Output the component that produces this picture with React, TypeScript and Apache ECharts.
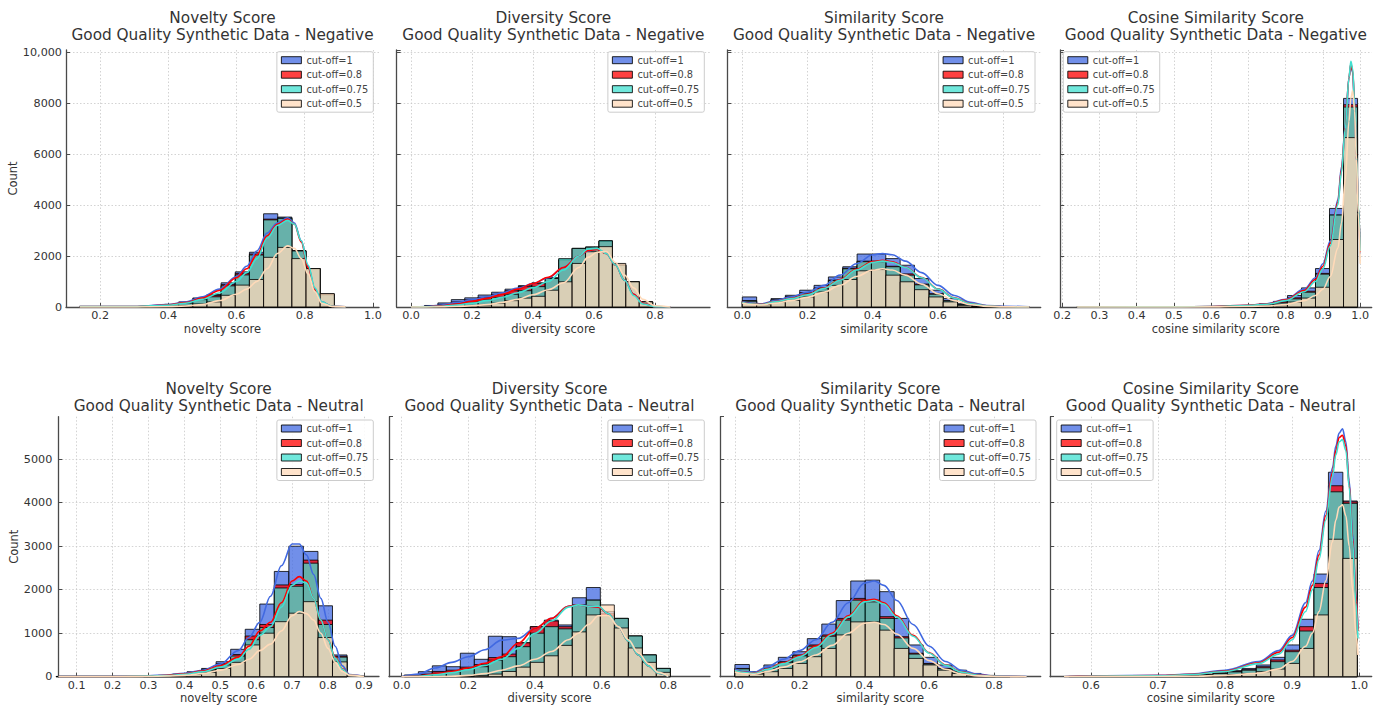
import React, { useEffect, useRef } from 'react';
import * as echarts from 'echarts';

// ---------- names / colours ----------
const cutoffNames = ['cut-off=1', 'cut-off=0.8', 'cut-off=0.75', 'cut-off=0.5'];
const barColors = ['rgba(65,105,225,0.75)', 'rgba(255,0,0,0.75)', 'rgba(64,224,208,0.75)', 'rgba(255,218,185,0.75)'];
const lineColors = ['#4169E1', '#FF0000', '#40E0D0', '#FFDAB9'];

const metrics = ['Novelty Score', 'Diversity Score', 'Similarity Score', 'Cosine Similarity Score'];
const sentiments = ['Negative', 'Neutral'];
const xNames = ['novelty score', 'diversity score', 'similarity score', 'cosine similarity score'];

// ---------- Row 1: Negative ----------
// Novelty
const negNoveltyBinStart = 0.14;
const negNoveltyBinWidth = 0.0415;
const negNoveltyC1 = [15, 5, 5, 5, 10, 25, 105, 200, 355, 490, 950, 1380, 2150, 3660, 3530, 2210, 1510, 500, 0, 0];
const negNoveltyC08 = [10, 5, 5, 5, 10, 20, 90, 170, 320, 450, 880, 1320, 2080, 3450, 3490, 2210, 1500, 490, 0, 0];
const negNoveltyC075 = [10, 5, 5, 5, 10, 20, 80, 150, 290, 400, 830, 1260, 2040, 3420, 3480, 2200, 1500, 480, 0, 0];
const negNoveltyC05 = [0, 0, 0, 0, 0, 5, 20, 50, 120, 200, 460, 860, 1080, 1950, 2340, 1900, 1510, 530, 0, 0];
const negNoveltyKdeX = [0.14, 0.3, 0.4, 0.45, 0.5, 0.55, 0.6, 0.63, 0.66, 0.69, 0.72, 0.75, 0.77, 0.79, 0.81, 0.83, 0.85, 0.88, 0.92];
const negNoveltyKdeC1 = [20, 20, 100, 200, 400, 700, 1200, 1600, 2200, 2900, 3300, 3500, 3300, 2600, 1600, 700, 200, 30, 5];
const negNoveltyKdeC08 = [15, 15, 80, 170, 350, 650, 1150, 1500, 2050, 2800, 3250, 3450, 3250, 2550, 1550, 680, 180, 25, 5];
const negNoveltyKdeC075 = [15, 15, 70, 150, 300, 550, 1000, 1350, 1900, 2700, 3200, 3400, 3250, 2600, 1650, 750, 200, 25, 5];
const negNoveltyKdeC05 = [0, 0, 10, 40, 100, 250, 500, 700, 1000, 1500, 2100, 2400, 2300, 1900, 1300, 600, 150, 20, 5];

// Diversity
const negDiversityBinStart = 0.0;
const negDiversityBinWidth = 0.044;
const negDiversityC1 = [0, 60, 160, 290, 360, 470, 580, 700, 840, 950, 1150, 1850, 2300, 2350, 2600, 1650, 1000, 200, 0, 0];
const negDiversityC08 = [0, 30, 100, 200, 280, 380, 500, 640, 800, 930, 1130, 1850, 2300, 2350, 2580, 1640, 990, 200, 0, 0];
const negDiversityC075 = [0, 20, 70, 140, 200, 280, 380, 500, 640, 800, 1120, 1900, 2300, 2350, 2600, 1640, 990, 200, 0, 0];
const negDiversityC05 = [0, 0, 10, 20, 40, 80, 150, 250, 350, 420, 660, 990, 1710, 2170, 2370, 1710, 990, 200, 0, 0];
const negDiversityKdeX = [0, 0.05, 0.1, 0.15, 0.2, 0.25, 0.3, 0.35, 0.4, 0.45, 0.5, 0.55, 0.58, 0.61, 0.64, 0.67, 0.7, 0.73, 0.76, 0.8, 0.85];
const negDiversityKdeC1 = [0, 20, 80, 170, 280, 400, 560, 740, 920, 1150, 1550, 2000, 2200, 2270, 2100, 1650, 1050, 500, 150, 20, 0];
const negDiversityKdeC08 = [0, 10, 50, 120, 220, 340, 500, 700, 920, 1170, 1550, 2000, 2220, 2260, 2100, 1650, 1050, 500, 150, 20, 0];
const negDiversityKdeC075 = [0, 5, 30, 80, 150, 250, 380, 560, 760, 1000, 1450, 2000, 2280, 2300, 2100, 1650, 1050, 450, 120, 15, 0];
const negDiversityKdeC05 = [0, 0, 5, 20, 50, 100, 180, 300, 480, 680, 950, 1550, 1950, 2150, 2180, 1750, 1250, 750, 300, 50, 0];

// Similarity
const negSimilarityBinStart = 0.0;
const negSimilarityBinWidth = 0.044;
const negSimilarityC1 = [395, 130, 330, 460, 660, 850, 1180, 1580, 2080, 2080, 1900, 1640, 1120, 660, 330, 130, 40, 20, 10, 5];
const negSimilarityC08 = [250, 100, 280, 400, 560, 750, 1060, 1520, 1800, 1800, 1600, 1300, 900, 520, 250, 90, 30, 10, 5, 0];
const negSimilarityC075 = [240, 100, 270, 390, 540, 720, 1040, 1500, 1780, 1780, 1580, 1250, 870, 500, 240, 90, 30, 10, 5, 0];
const negSimilarityC05 = [200, 90, 200, 260, 395, 590, 850, 1080, 1420, 1470, 1250, 990, 680, 395, 200, 65, 20, 5, 0, 0];
const negSimilarityKdeX = [0, 0.03, 0.06, 0.1, 0.15, 0.2, 0.25, 0.3, 0.35, 0.4, 0.43, 0.46, 0.5, 0.55, 0.6, 0.65, 0.7, 0.75, 0.8, 0.88];
const negSimilarityKdeC1 = [200, 150, 130, 250, 400, 580, 850, 1250, 1700, 2050, 2100, 2050, 1800, 1350, 850, 450, 180, 60, 30, 10];
const negSimilarityKdeC08 = [190, 125, 105, 210, 340, 500, 740, 1080, 1480, 1780, 1830, 1770, 1560, 1160, 710, 360, 135, 45, 12, 0];
const negSimilarityKdeC075 = [180, 120, 100, 200, 330, 480, 720, 1050, 1450, 1750, 1800, 1750, 1550, 1150, 700, 350, 130, 40, 10, 0];
const negSimilarityKdeC05 = [150, 100, 80, 150, 250, 380, 580, 850, 1200, 1450, 1500, 1450, 1250, 900, 520, 250, 90, 25, 5, 0];

// Cosine similarity
const negCosineBinStart = 0.24;
const negCosineBinWidth = 0.03765;
const negCosineC1 = [5, 5, 5, 5, 5, 5, 5, 5, 5, 10, 20, 30, 60, 130, 220, 450, 750, 1510, 3870, 8190];
const negCosineC08 = [5, 5, 5, 5, 5, 5, 5, 5, 5, 10, 15, 25, 50, 100, 195, 360, 620, 1320, 3610, 7940];
const negCosineC075 = [5, 5, 5, 5, 5, 5, 5, 5, 5, 5, 10, 20, 45, 90, 155, 320, 580, 1290, 3610, 7850];
const negCosineC05 = [0, 0, 0, 0, 0, 0, 0, 0, 0, 5, 5, 10, 20, 40, 90, 195, 350, 775, 2650, 6650];
const negCosineKdeX = [0.24, 0.5, 0.6, 0.7, 0.75, 0.8, 0.85, 0.88, 0.9, 0.92, 0.94, 0.95, 0.96, 0.97, 0.975, 0.98, 0.985, 0.99, 0.995, 1.0];
const negCosineKdeC1 = [0, 5, 20, 70, 130, 300, 700, 1150, 1700, 2600, 4200, 5500, 7100, 9000, 9500, 9200, 7900, 5900, 3900, 2100];
const negCosineKdeC08 = [0, 5, 20, 65, 120, 280, 650, 1080, 1600, 2500, 4100, 5400, 7050, 9000, 9550, 9250, 7950, 5950, 3950, 2150];
const negCosineKdeC075 = [0, 5, 20, 60, 110, 250, 600, 1000, 1500, 2400, 4000, 5300, 7000, 9000, 9650, 9350, 8000, 6000, 4000, 2200];
const negCosineKdeC05 = [0, 0, 5, 20, 40, 100, 250, 450, 700, 1200, 2300, 3300, 5000, 7300, 8200, 8500, 7700, 5800, 3700, 1700];

// ---------- Row 2: Neutral ----------
// Novelty
const neuNoveltyBinStart = 0.043;
const neuNoveltyBinWidth = 0.0405;
const neuNoveltyC1 = [5, 5, 5, 5, 5, 5, 15, 30, 60, 115, 190, 345, 630, 1090, 1670, 2420, 3000, 2880, 1630, 500];
const neuNoveltyC08 = [5, 5, 5, 5, 5, 5, 10, 25, 50, 95, 170, 300, 510, 935, 1200, 2110, 2120, 2680, 1300, 470];
const neuNoveltyC075 = [5, 5, 5, 5, 5, 5, 10, 20, 45, 85, 150, 270, 475, 850, 1130, 2040, 2080, 2610, 1200, 450];
const neuNoveltyC05 = [0, 0, 0, 0, 0, 0, 5, 10, 20, 50, 100, 190, 330, 730, 1000, 1265, 1460, 1725, 900, 340];
const neuNoveltyKdeX = [0.05, 0.2, 0.3, 0.35, 0.4, 0.45, 0.5, 0.55, 0.58, 0.61, 0.64, 0.67, 0.7, 0.72, 0.74, 0.76, 0.78, 0.8, 0.82, 0.84, 0.86, 0.9];
const neuNoveltyKdeC1 = [5, 5, 20, 40, 80, 150, 290, 600, 900, 1250, 1850, 2550, 3050, 3050, 2800, 2350, 1800, 1250, 700, 250, 50, 5];
const neuNoveltyKdeC08 = [5, 5, 15, 30, 65, 130, 250, 450, 700, 1050, 1250, 1700, 2200, 2300, 2200, 1800, 1300, 850, 450, 180, 40, 5];
const neuNoveltyKdeC075 = [5, 5, 15, 25, 55, 110, 220, 400, 630, 950, 1150, 1600, 2100, 2200, 2150, 1800, 1300, 850, 430, 170, 35, 5];
const neuNoveltyKdeC05 = [0, 0, 5, 15, 30, 70, 150, 280, 400, 600, 750, 1050, 1400, 1500, 1450, 1300, 1000, 650, 330, 120, 30, 0];

// Diversity
const neuDiversityBinStart = 0.008;
const neuDiversityBinWidth = 0.042;
const neuDiversityC1 = [40, 115, 250, 230, 540, 400, 930, 920, 780, 1150, 1300, 1190, 1815, 2050, 1500, 1340, 935, 500, 190, 0];
const neuDiversityC08 = [10, 60, 120, 150, 220, 280, 440, 520, 780, 1150, 1280, 1150, 1650, 1760, 1450, 1340, 935, 500, 190, 0];
const neuDiversityC075 = [5, 40, 80, 115, 190, 230, 380, 460, 690, 1000, 1150, 1100, 1650, 1760, 1400, 1340, 935, 500, 190, 0];
const neuDiversityC05 = [0, 0, 0, 0, 10, 30, 60, 120, 220, 330, 480, 720, 1030, 1420, 1650, 1120, 660, 330, 100, 0];
const neuDiversityKdeX = [0, 0.05, 0.1, 0.15, 0.2, 0.25, 0.3, 0.35, 0.4, 0.45, 0.5, 0.53, 0.56, 0.59, 0.62, 0.65, 0.68, 0.71, 0.74, 0.77, 0.8];
const neuDiversityKdeC1 = [0, 60, 200, 330, 460, 620, 840, 880, 1110, 1340, 1620, 1650, 1630, 1600, 1450, 1150, 820, 500, 250, 80, 10];
const neuDiversityKdeC08 = [0, 15, 60, 115, 200, 310, 460, 770, 1110, 1340, 1620, 1650, 1620, 1600, 1450, 1150, 820, 500, 250, 80, 10];
const neuDiversityKdeC075 = [0, 10, 45, 90, 160, 260, 400, 650, 1000, 1280, 1600, 1650, 1620, 1620, 1450, 1150, 820, 500, 250, 80, 10];
const neuDiversityKdeC05 = [0, 0, 0, 10, 30, 70, 150, 250, 400, 580, 850, 1000, 1200, 1400, 1400, 1150, 850, 550, 300, 100, 15];

// Similarity
const neuSimilarityBinStart = 0.0;
const neuSimilarityBinWidth = 0.0447;
const neuSimilarityC1 = [280, 115, 270, 445, 575, 875, 1210, 1750, 2200, 2220, 1955, 1340, 730, 445, 270, 150, 75, 30, 10, 5];
const neuSimilarityC08 = [190, 75, 200, 345, 500, 730, 960, 1340, 1800, 1760, 1380, 920, 540, 305, 190, 115, 50, 20, 5, 0];
const neuSimilarityC075 = [180, 70, 190, 330, 480, 700, 930, 1300, 1760, 1720, 1340, 890, 520, 290, 180, 110, 45, 20, 5, 0];
const neuSimilarityC05 = [115, 60, 115, 190, 305, 460, 650, 960, 1260, 1260, 1070, 650, 420, 270, 150, 75, 30, 10, 0, 0];
const neuSimilarityKdeX = [0, 0.03, 0.06, 0.1, 0.15, 0.2, 0.25, 0.3, 0.35, 0.4, 0.43, 0.46, 0.5, 0.55, 0.6, 0.65, 0.7, 0.75, 0.8, 0.9];
const neuSimilarityKdeC1 = [180, 120, 100, 230, 400, 600, 850, 1250, 1700, 2150, 2200, 2100, 1750, 1200, 700, 350, 150, 60, 20, 5];
const neuSimilarityKdeC08 = [150, 100, 80, 180, 320, 480, 700, 1000, 1400, 1750, 1780, 1700, 1400, 950, 550, 270, 110, 40, 10, 0];
const neuSimilarityKdeC075 = [140, 95, 75, 170, 300, 460, 670, 970, 1370, 1720, 1750, 1670, 1370, 930, 540, 260, 105, 35, 10, 0];
const neuSimilarityKdeC05 = [110, 70, 55, 120, 220, 340, 500, 720, 1000, 1230, 1250, 1200, 980, 650, 370, 170, 60, 20, 5, 0];

// Cosine similarity
const neuCosineBinStart = 0.567;
const neuCosineBinWidth = 0.0215;
const neuCosineC1 = [5, 5, 5, 5, 5, 10, 15, 25, 40, 60, 90, 140, 190, 270, 445, 730, 1320, 2360, 4700, 4040];
const neuCosineC08 = [5, 5, 5, 5, 5, 10, 15, 20, 35, 50, 80, 120, 160, 230, 385, 610, 1150, 2145, 4390, 4020];
const neuCosineC075 = [5, 5, 5, 5, 5, 5, 10, 20, 30, 45, 70, 110, 150, 205, 345, 575, 1050, 2050, 4250, 3985];
const neuCosineC05 = [0, 0, 0, 0, 0, 0, 5, 5, 10, 20, 30, 50, 75, 115, 175, 305, 650, 1420, 3160, 2720];
const neuCosineKdeX = [0.56, 0.7, 0.75, 0.8, 0.85, 0.88, 0.9, 0.92, 0.93, 0.94, 0.95, 0.96, 0.965, 0.97, 0.975, 0.98, 0.985, 0.99, 0.995, 0.998];
const neuCosineKdeC1 = [0, 30, 60, 150, 350, 600, 950, 1700, 2200, 2900, 3800, 4800, 5300, 5600, 5700, 5400, 4500, 3300, 1900, 1100];
const neuCosineKdeC08 = [0, 25, 55, 130, 320, 560, 900, 1600, 2100, 2800, 3700, 4700, 5200, 5500, 5550, 5300, 4400, 3200, 1850, 1050];
const neuCosineKdeC075 = [0, 20, 50, 120, 300, 520, 850, 1500, 2000, 2700, 3600, 4600, 5100, 5400, 5450, 5200, 4350, 3100, 1700, 880];
const neuCosineKdeC05 = [0, 5, 10, 30, 80, 180, 350, 700, 1000, 1500, 2200, 3100, 3600, 3900, 3950, 3700, 3000, 2000, 1000, 500];

// y-axis extents per row
const rowYMax = [10090, 5977];

const panelData = [
  { bs: negNoveltyBinStart, bw: negNoveltyBinWidth, h: [negNoveltyC1, negNoveltyC08, negNoveltyC075, negNoveltyC05], kx: negNoveltyKdeX, k: [negNoveltyKdeC1, negNoveltyKdeC08, negNoveltyKdeC075, negNoveltyKdeC05] },
  { bs: negDiversityBinStart, bw: negDiversityBinWidth, h: [negDiversityC1, negDiversityC08, negDiversityC075, negDiversityC05], kx: negDiversityKdeX, k: [negDiversityKdeC1, negDiversityKdeC08, negDiversityKdeC075, negDiversityKdeC05] },
  { bs: negSimilarityBinStart, bw: negSimilarityBinWidth, h: [negSimilarityC1, negSimilarityC08, negSimilarityC075, negSimilarityC05], kx: negSimilarityKdeX, k: [negSimilarityKdeC1, negSimilarityKdeC08, negSimilarityKdeC075, negSimilarityKdeC05] },
  { bs: negCosineBinStart, bw: negCosineBinWidth, h: [negCosineC1, negCosineC08, negCosineC075, negCosineC05], kx: negCosineKdeX, k: [negCosineKdeC1, negCosineKdeC08, negCosineKdeC075, negCosineKdeC05] },
  { bs: neuNoveltyBinStart, bw: neuNoveltyBinWidth, h: [neuNoveltyC1, neuNoveltyC08, neuNoveltyC075, neuNoveltyC05], kx: neuNoveltyKdeX, k: [neuNoveltyKdeC1, neuNoveltyKdeC08, neuNoveltyKdeC075, neuNoveltyKdeC05] },
  { bs: neuDiversityBinStart, bw: neuDiversityBinWidth, h: [neuDiversityC1, neuDiversityC08, neuDiversityC075, neuDiversityC05], kx: neuDiversityKdeX, k: [neuDiversityKdeC1, neuDiversityKdeC08, neuDiversityKdeC075, neuDiversityKdeC05] },
  { bs: neuSimilarityBinStart, bw: neuSimilarityBinWidth, h: [neuSimilarityC1, neuSimilarityC08, neuSimilarityC075, neuSimilarityC05], kx: neuSimilarityKdeX, k: [neuSimilarityKdeC1, neuSimilarityKdeC08, neuSimilarityKdeC075, neuSimilarityKdeC05] },
  { bs: neuCosineBinStart, bw: neuCosineBinWidth, h: [neuCosineC1, neuCosineC08, neuCosineC075, neuCosineC05], kx: neuCosineKdeX, k: [neuCosineKdeC1, neuCosineKdeC08, neuCosineKdeC075, neuCosineKdeC05] },
];

// ---------- layout (pixels) ----------
const layouts: any[] = [
  { left: 66, top: 50, width: 313, height: 257, xMin: 0.1, xMax: 1.018, split: 5, legend: { right: 1011.7, top: 51.7 } },
  { left: 396.7, top: 50, width: 313.3, height: 257, xMin: -0.047, xMax: 0.98, split: 5, legend: { right: 680.7, top: 51.7 } },
  { left: 727.3, top: 50, width: 313.4, height: 257, xMin: -0.046, xMax: 0.915, split: 5, legend: { right: 350, top: 51.7 } },
  { left: 1060, top: 50, width: 311.7, height: 257, xMin: 0.194, xMax: 1.031, split: 9, legend: { left: 1063.3, top: 51.7 } },
  { left: 58.3, top: 416.7, width: 320.7, height: 260, xMin: 0.049, xMax: 0.942, split: 9, legend: { right: 1011.7, top: 420 } },
  { left: 389, top: 416.7, width: 321, height: 260, xMin: -0.038, xMax: 0.925, split: 5, legend: { right: 680.7, top: 420 } },
  { left: 720, top: 416.7, width: 320.7, height: 260, xMin: -0.046, xMax: 0.944, split: 5, legend: { right: 349, top: 420 } },
  { left: 1050, top: 416.7, width: 321.7, height: 260, xMin: 0.539, xMax: 1.0185, split: 5, legend: { left: 1056.7, top: 420 } },
];

const FONT = 'DejaVu Sans';
const TXT = '#333333';
const AXIS = '#4a4a4a';

function buildOption() {
  const grid: any[] = [];
  const xAxis: any[] = [];
  const yAxis: any[] = [];
  const title: any[] = [];
  const legend: any[] = [];
  const series: any[] = [];

  layouts.forEach((L, i) => {
    const row = i < 4 ? 0 : 1;
    const col = i % 4;
    grid.push({ left: L.left, top: L.top, width: L.width, height: L.height, containLabel: false, outerBoundsMode: 'none' });
    title.push({
      text: `${metrics[col]}\nGood Quality Synthetic Data - ${sentiments[row]}`,
      left: L.left + L.width / 2,
      top: row === 0 ? 9.5 : 380.5,
      textAlign: 'center',
      padding: 0,
      textStyle: { fontSize: 15.3, fontWeight: 'normal', color: TXT, lineHeight: 17.3, fontFamily: FONT },
    });
    xAxis.push({
      type: 'value', gridIndex: i, min: L.xMin, max: L.xMax, splitNumber: L.split,
      name: xNames[col], nameLocation: 'middle', nameGap: row === 0 ? 15.5 : 14,
      nameTextStyle: { fontSize: 11.5, color: TXT, fontFamily: FONT },
      axisLine: { show: true, onZero: false, lineStyle: { color: AXIS, width: 1.3 } },
      axisTick: { show: true, inside: true, length: 4, lineStyle: { color: AXIS, width: 1 } },
      axisLabel: { show: true, fontSize: 11.2, color: TXT, margin: 3, fontFamily: FONT, showMinLabel: false, showMaxLabel: false, formatter: (v: number) => v.toFixed(1) },
      splitLine: { show: true, showMinLine: false, showMaxLine: false, lineStyle: { color: '#c8c8c8', type: [1.5, 2], width: 0.8 } },
    });
    yAxis.push({
      type: 'value', gridIndex: i, min: 0, max: rowYMax[row], splitNumber: row === 0 ? 5 : 6,
      name: col === 0 ? 'Count' : '', nameLocation: 'middle', nameGap: row === 0 ? 45 : 37,
      nameTextStyle: { fontSize: 11.5, color: TXT, fontFamily: FONT },
      axisLine: { show: true, onZero: false, lineStyle: { color: AXIS, width: 1.3 } },
      axisTick: { show: true, inside: true, length: 4, lineStyle: { color: AXIS, width: 1 } },
      axisLabel: {
        show: col === 0, fontSize: 11.2, color: TXT, margin: row === 0 ? 4 : 6, fontFamily: FONT,
        showMaxLabel: false,
        formatter: (v: number) => (v >= 10000 ? '10,000' : String(Math.round(v))),
      },
      splitLine: { show: true, showMinLine: false, showMaxLine: false, lineStyle: { color: '#c8c8c8', type: [1.5, 2], width: 0.8 } },
    });
    legend.push({
      ...L.legend,
      orient: 'vertical',
      data: cutoffNames,
      icon: 'rect',
      itemWidth: 20,
      itemHeight: 7,
      itemGap: 2.5,
      selectedMode: false,
      padding: [2.5, 5, 2.5, 4],
      backgroundColor: 'rgba(255,255,255,0.85)',
      borderColor: '#cccccc',
      borderWidth: 1,
      borderRadius: 2,
      itemStyle: { borderColor: 'rgba(0,0,0,0.85)', borderWidth: 1 },
      textStyle: { fontSize: 9.8, color: '#444', lineHeight: 12, fontFamily: FONT },
    });

    const P = panelData[i];
    for (let s = 0; s < 4; s++) {
      const fill = barColors[s];
      series.push({
        type: 'custom',
        name: cutoffNames[s],
        xAxisIndex: i,
        yAxisIndex: i,
        silent: true,
        z: 2,
        itemStyle: { color: fill },
        encode: { x: [0, 1], y: 2 },
        data: P.h[s].map((c: number, k: number) => [P.bs + k * P.bw, P.bs + (k + 1) * P.bw, c]),
        renderItem: (params: any, api: any) => {
          const c = api.value(2);
          if (!(c > 0)) return null;
          const p0 = api.coord([api.value(0), c]);
          const p1 = api.coord([api.value(1), 0]);
          return {
            type: 'rect',
            shape: { x: p0[0], y: p0[1], width: p1[0] - p0[0], height: p1[1] - p0[1] },
            style: { fill, stroke: 'rgba(0,0,0,0.8)', lineWidth: 1 },
          };
        },
      });
      series.push({
        type: 'line',
        name: `kde ${cutoffNames[s]} ${i}`,
        xAxisIndex: i,
        yAxisIndex: i,
        silent: true,
        z: 2,
        showSymbol: false,
        symbol: 'none',
        smooth: 0.35,
        smoothMonotone: 'x',
        lineStyle: { color: lineColors[s], width: 1.6 },
        itemStyle: { color: lineColors[s] },
        data: P.kx.map((x: number, j: number) => [x, P.k[s][j]]),
      });
    }
  });

  return {
    animation: false,
    backgroundColor: '#ffffff',
    textStyle: { fontFamily: FONT },
    title,
    legend,
    grid,
    xAxis,
    yAxis,
    series,
  };
}

export default function App() {
  const ref = useRef<HTMLDivElement>(null);
  useEffect(() => {
    if (!ref.current) return;
    const chart = echarts.init(ref.current, null, { renderer: 'svg' });
    chart.setOption(buildOption() as any);
    return () => chart.dispose();
  }, []);
  return (
    <div
      ref={ref}
      style={{ position: 'fixed', left: 0, top: 0, width: 1385, height: 705, background: '#ffffff' }}
    />
  );
}
